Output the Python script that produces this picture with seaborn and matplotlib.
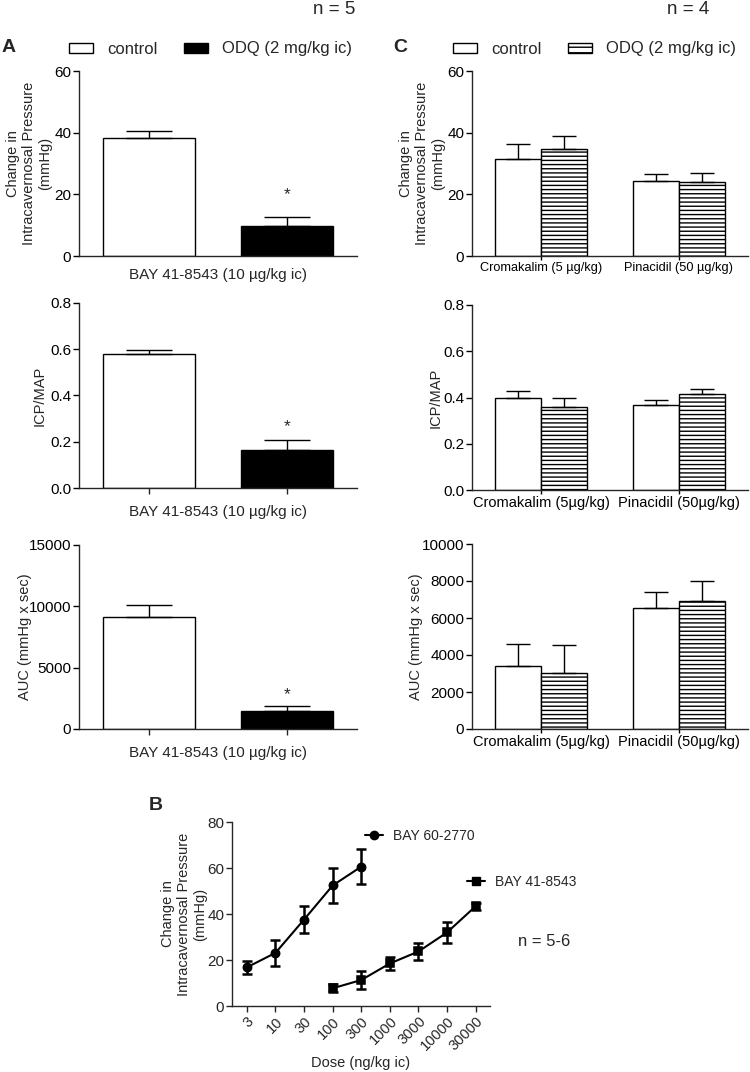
import matplotlib
matplotlib.use("Agg")
import matplotlib.pyplot as plt
from matplotlib.patches import Patch
from matplotlib.lines import Line2D
import numpy as np
import pandas as pd
import seaborn as sns

# Panel A: BAY 41-8543 with / without ODQ (n = 5)
a_groups = ["control", "ODQ (2 mg/kg ic)"]
a_icp_mean = [38.2, 9.7]
a_icp_sem = [2.4, 2.9]
a_ratio_mean = [0.58, 0.164]
a_ratio_sem = [0.017, 0.045]
a_auc_mean = [9130, 1470]
a_auc_sem = [980, 420]
a_star_y = [20.0, 0.265, 2800]

# Panel C: K-ATP openers with / without ODQ (n = 4)
c_drugs = ["Cromakalim (5 µg/kg)", "Pinacidil (50 µg/kg)"]
c_drugs_short = ["Cromakalim (5µg/kg)", "Pinacidil (50µg/kg)"]
c_icp_control = [31.5, 24.4]
c_icp_control_sem = [4.8, 2.1]
c_icp_odq = [34.7, 23.9]
c_icp_odq_sem = [4.2, 3.0]
c_ratio_control = [0.398, 0.368]
c_ratio_control_sem = [0.030, 0.021]
c_ratio_odq = [0.359, 0.415]
c_ratio_odq_sem = [0.039, 0.022]
c_auc_control = [3390, 6560]
c_auc_control_sem = [1220, 830]
c_auc_odq = [3045, 6900]
c_auc_odq_sem = [1510, 1080]

# Panel B: dose response (n = 5-6)
doses = ["3", "10", "30", "100", "300", "1000", "3000", "10000", "30000"]
bay60_doses = ["3", "10", "30", "100", "300"]
bay60_mean = [16.8, 23.1, 37.6, 52.4, 60.6]
bay60_sem = [2.8, 5.7, 5.8, 7.4, 7.6]
bay41_doses = ["100", "300", "1000", "3000", "10000", "30000"]
bay41_mean = [7.7, 11.3, 18.5, 23.7, 32.0, 43.4]
bay41_sem = [1.8, 4.0, 3.0, 3.5, 4.7, 1.5]

sns.set_style("ticks")
plt.rcParams["font.family"] = ["Liberation Sans", "DejaVu Sans"]
plt.rcParams["axes.linewidth"] = 1.0
plt.rcParams["hatch.linewidth"] = 1.0
plt.rcParams["xtick.major.width"] = 1.0
plt.rcParams["ytick.major.width"] = 1.0

W, H = 750, 1072
fig = plt.figure(figsize=(W / 100, H / 100), dpi=100)


def add_ax(l, t, r, b):
    return fig.add_axes([l / W, 1 - b / H, (r - l) / W, (b - t) / H])


icp_label = "Change in\nIntracavernosal Pressure\n(mmHg)"
a_xlabel = "BAY 41-8543 (10 µg/kg ic)"


def style(ax, ylim, yticks, ylabel, labx):
    ax.set_ylim(*ylim)
    ax.set_yticks(yticks)
    ax.set_ylabel(ylabel, fontsize=10.5)
    ax.yaxis.set_label_coords(labx, 0.5)
    ax.tick_params(axis="y", labelsize=11, length=4, pad=1.5, colors="black")
    sns.despine(ax=ax)


# ---- Panel A ----
a_specs = [
    ((79, 71, 357, 256), a_icp_mean, a_icp_sem, (0, 60), [0, 20, 40, 60], icp_label, -0.097, None),
    ((79, 303, 357, 488), a_ratio_mean, a_ratio_sem, (0, 0.8), [0, 0.2, 0.4, 0.6, 0.8], "ICP/MAP", -0.115, "{:.1f}"),
    ((79, 545, 357, 729), a_auc_mean, a_auc_sem, (0, 15000), [0, 5000, 10000, 15000], "AUC (mmHg x sec)", -0.169, None),
]
for i, (box, mean, sem, ylim, yticks, ylabel, labx, fmt) in enumerate(a_specs):
    ax = add_ax(*box)
    sns.barplot(x=a_groups, y=mean, hue=a_groups, palette=["white", "black"], edgecolor="black",
                linewidth=1.0, width=0.667, saturation=1, legend=False, ax=ax)
    ax.errorbar([0, 1], mean, yerr=[[0, 0], sem], fmt="none", ecolor="black", elinewidth=1.0,
                capsize=16.5, capthick=1.0, zorder=1)
    ax.set_xlim(-0.507, 1.507)
    ax.set_xticks([0, 1])
    ax.set_xticklabels(["", ""])
    ax.tick_params(axis="x", length=0 if i == 0 else 4)
    ax.set_xlabel(a_xlabel, fontsize=11, labelpad=5)
    style(ax, ylim, yticks, ylabel, labx)
    if fmt:
        ax.set_yticklabels([fmt.format(v) for v in yticks])
    ax.text(1, a_star_y[i], "*", ha="center", va="center", fontsize=12.5)

# ---- Panel C ----
c_specs = [
    ((472, 71, 748, 256), c_icp_control, c_icp_control_sem, c_icp_odq, c_icp_odq_sem,
     (0, 60), [0, 20, 40, 60], icp_label, -0.098, None, c_drugs, 9.2),
    ((472, 305, 748, 490), c_ratio_control, c_ratio_control_sem, c_ratio_odq, c_ratio_odq_sem,
     (0, 0.8), [0, 0.2, 0.4, 0.6, 0.8], "ICP/MAP", -0.105, "{:.1f}", c_drugs_short, 10.5),
    ((472, 544, 748, 729), c_auc_control, c_auc_control_sem, c_auc_odq, c_auc_odq_sem,
     (0, 10000), [0, 2000, 4000, 6000, 8000, 10000], "AUC (mmHg x sec)", -0.178, None, c_drugs_short, 10.5),
]
for box, m_ctl, s_ctl, m_odq, s_odq, ylim, yticks, ylabel, labx, fmt, xlabels, xfs in c_specs:
    ax = add_ax(*box)
    df = pd.DataFrame({
        "drug": c_drugs * 2,
        "treatment": ["control"] * 2 + ["ODQ"] * 2,
        "value": m_ctl + m_odq,
    })
    sns.barplot(data=df, x="drug", y="value", hue="treatment", palette=["white", "white"],
                edgecolor="black", linewidth=1.0, width=0.66, saturation=1, legend=False, ax=ax)
    for bar in ax.containers[1]:
        bar.set_hatch("----")
    for cont, sems in zip(ax.containers, [s_ctl, s_odq]):
        xs = [b.get_x() + b.get_width() / 2 for b in cont]
        ys = [b.get_height() for b in cont]
        ax.errorbar(xs, ys, yerr=[[0, 0], sems], fmt="none", ecolor="black", elinewidth=1.0,
                    capsize=8.3, capthick=1.0, zorder=1)
    ax.set_xlim(-0.5, 1.5)
    ax.set_xticks([0, 1])
    ax.set_xticklabels(xlabels, fontsize=xfs)
    ax.tick_params(axis="x", length=3, pad=1.5, colors="black")
    ax.set_xlabel("")
    style(ax, ylim, yticks, ylabel, labx)
    if fmt:
        ax.set_yticklabels([fmt.format(v) for v in yticks])

# ---- Panel B ----
axb = add_ax(232, 822, 490, 1006)
dfb = pd.DataFrame({
    "dose": bay60_doses + bay41_doses,
    "compound": ["BAY 60-2770"] * len(bay60_doses) + ["BAY 41-8543"] * len(bay41_doses),
    "value": bay60_mean + bay41_mean,
})
sns.pointplot(data=dfb, x="dose", y="value", hue="compound", order=doses,
              hue_order=["BAY 60-2770", "BAY 41-8543"], palette=["black", "black"],
              markers=["o", "s"], linestyles=["-", "-"], errorbar=None, legend=False,
              markersize=6, linewidth=1.5, ax=axb)
for dl, mean, sem in [(bay60_doses, bay60_mean, bay60_sem), (bay41_doses, bay41_mean, bay41_sem)]:
    xs = [doses.index(d) for d in dl]
    axb.errorbar(xs, mean, yerr=sem, fmt="none", ecolor="black", elinewidth=1.8,
                 capsize=3.6, capthick=1.8)
axb.set_xlim(-0.52, 8.5)
axb.set_ylim(0, 80)
axb.set_yticks([0, 20, 40, 60, 80])
axb.set_xlabel("Dose (ng/kg ic)", fontsize=10.5, labelpad=2)
axb.set_ylabel(icp_label, fontsize=10.5)
axb.yaxis.set_label_coords(-0.097, 0.5)
axb.tick_params(axis="y", labelsize=11, length=4, pad=1.5)
axb.tick_params(axis="x", labelsize=10.5, length=4, pad=2)
plt.setp(axb.get_xticklabels(), rotation=45, ha="right", rotation_mode="anchor")
sns.despine(ax=axb)

h60 = Line2D([], [], color="black", marker="o", markersize=6, linewidth=1.5)
h41 = Line2D([], [], color="black", marker="s", markersize=6, linewidth=1.5)
leg1 = axb.legend([h60], ["BAY 60-2770"], loc="center left", bbox_to_anchor=(365 / W, 1 - 836 / H),
                  bbox_transform=fig.transFigure, frameon=False, fontsize=10, handlelength=1.3,
                  handletextpad=0.7, borderpad=0, borderaxespad=0)
axb.add_artist(leg1)
axb.legend([h41], ["BAY 41-8543"], loc="center left", bbox_to_anchor=(467 / W, 1 - 882 / H),
           bbox_transform=fig.transFigure, frameon=False, fontsize=10, handlelength=1.3,
           handletextpad=0.7, borderpad=0, borderaxespad=0)

# ---- figure legends & labels ----
leg_kw = dict(loc="center left", ncol=2, frameon=False, fontsize=12, handlelength=1.44,
              handleheight=0.55, handletextpad=0.84, columnspacing=1.6, borderpad=0, borderaxespad=0)
fig.legend([Patch(facecolor="white", edgecolor="black", linewidth=1.0),
            Patch(facecolor="black", edgecolor="black", linewidth=1.0)],
           ["control", "ODQ (2 mg/kg ic)"], bbox_to_anchor=(69 / W, 1 - 49 / H), **leg_kw)
fig.legend([Patch(facecolor="white", edgecolor="black", linewidth=1.0),
            Patch(facecolor="white", edgecolor="black", linewidth=1.0, hatch="---")],
           ["control", "ODQ (2 mg/kg ic)"], bbox_to_anchor=(453 / W, 1 - 49 / H), **leg_kw)

fig.text(9 / W, 1 - 47 / H, "A", fontsize=14, fontweight="bold", ha="center", va="center")
fig.text(400 / W, 1 - 47 / H, "C", fontsize=14, fontweight="bold", ha="center", va="center")
fig.text(156 / W, 1 - 805 / H, "B", fontsize=14, fontweight="bold", ha="center", va="center")
fig.text(334 / W, 1 - 9 / H, "n = 5", fontsize=13.5, ha="center", va="center")
fig.text(688 / W, 1 - 9 / H, "n = 4", fontsize=13.5, ha="center", va="center")
fig.text(544 / W, 1 - 941 / H, "n = 5-6", fontsize=12, ha="center", va="center")

fig.savefig("out.png", dpi=100)
